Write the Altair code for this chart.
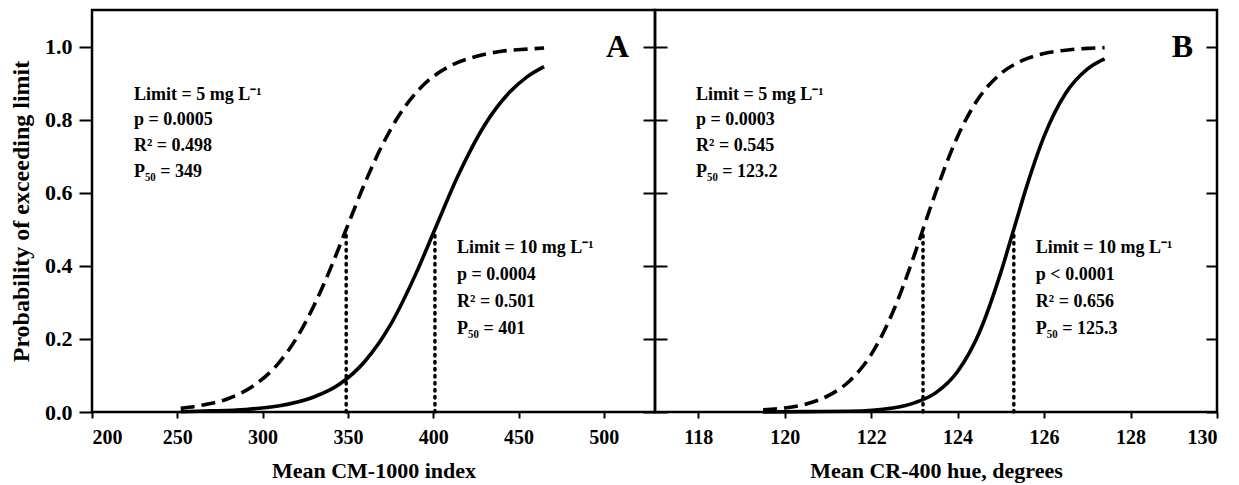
import altair as alt
import pandas as pd

FONT = "Liberation Serif"

# ---------------- data ----------------
# Panel A (Mean CM-1000 index)
a_x_dash = [252, 265, 280, 295, 310, 320, 330, 340, 349, 360, 370, 380, 395, 410, 425, 440, 455, 465]
a_y_dash = [0.010, 0.019, 0.037, 0.073, 0.137, 0.203, 0.290, 0.395, 0.500, 0.627, 0.729, 0.812,
            0.898, 0.947, 0.973, 0.987, 0.993, 0.996]
a_x_solid = [252, 270, 290, 310, 330, 345, 360, 375, 390, 401, 415, 430, 445, 455, 465]
a_y_solid = [0.001, 0.003, 0.007, 0.017, 0.041, 0.076, 0.139, 0.239, 0.380, 0.500, 0.651, 0.784,
             0.876, 0.917, 0.945]
a_p50 = [349, 401]

# Panel B (Mean CR-400 hue, degrees)
b_x_dash = [119.5, 120, 120.5, 121, 121.5, 122, 122.5, 123, 123.2, 123.5, 124, 124.5, 125, 125.5,
            126, 126.5, 127, 127.4]
b_y_dash = [0.006, 0.011, 0.022, 0.044, 0.085, 0.157, 0.273, 0.430, 0.500, 0.603, 0.754, 0.861,
            0.926, 0.962, 0.981, 0.990, 0.995, 0.997]
b_x_solid = [119.5, 120.5, 121.5, 122.5, 123, 123.5, 124, 124.5, 125, 125.3, 125.6, 126, 126.5,
             127, 127.4]
b_y_solid = [0.000, 0.001, 0.002, 0.011, 0.025, 0.053, 0.111, 0.217, 0.382, 0.500, 0.618, 0.754,
             0.872, 0.938, 0.966]
b_p50 = [123.2, 125.3]

p50_top = [0.49, 0.49]

a_text_upper = ["Limit = 5 mg L⁻¹", "p = 0.0005", "R² = 0.498", "P₅₀ = 349"]
a_text_lower = ["Limit = 10 mg L⁻¹", "p = 0.0004", "R² = 0.501", "P₅₀ = 401"]
b_text_upper = ["Limit = 5 mg L⁻¹", "p = 0.0003", "R² = 0.545", "P₅₀ = 123.2"]
b_text_lower = ["Limit = 10 mg L⁻¹", "p < 0.0001", "R² = 0.656", "P₅₀ = 125.3"]
rows_upper = [0.855, 0.784, 0.713, 0.642]
rows_lower = [0.434, 0.361, 0.287, 0.213]
a_text_x = [224.6, 414.0]
b_text_x = [117.95, 125.81]

a_letter_x, b_letter_x, letter_y = 508, 129.2, 1.0

a_domain = [200, 530]
b_domain = [117, 130]
a_ticks = [200, 250, 300, 350, 400, 450, 500]
b_ticks = [118, 120, 122, 124, 126, 128, 130]
y_ticks = [0.0, 0.2, 0.4, 0.6, 0.8, 1.0]
y_domain = [0, 1.1]


def panel(x_dash, y_dash, x_solid, y_solid, p50, t_up, t_lo, tx, letter, letter_x,
          xdomain, xticks, xtitle, is_left, width):
    xs = alt.Scale(domain=xdomain, nice=False, zero=False)
    ys = alt.Scale(domain=y_domain, nice=False, zero=False)
    x_axis = alt.Axis(values=xticks, title=xtitle, tickSize=6, labelPadding=9,
                      titlePadding=13, labelFontSize=20, titleFontSize=22, format="d")
    if is_left:
        y_axis = alt.Axis(values=y_ticks, format=".1f", title="Probability of exceeding limit",
                          orient="left", tickSize=13, labelPadding=7, titlePadding=11,
                          labelFontSize=22, titleFontSize=24)
        right_axis = alt.Axis(values=y_ticks, orient="right", offset=-12, tickSize=24,
                              labels=False, domain=False, title=None)
    else:
        y_axis = None
        right_axis = alt.Axis(values=y_ticks, orient="right", offset=-11, tickSize=11,
                              labels=False, domain=False, title=None)

    dash_df = pd.DataFrame({"x": x_dash, "y": y_dash})
    solid_df = pd.DataFrame({"x": x_solid, "y": y_solid})
    rule_df = pd.DataFrame({"x": p50, "y0": [0.0] * len(p50), "y1": p50_top})
    text_df = pd.DataFrame({
        "x": [tx[0]] * len(t_up) + [tx[1]] * len(t_lo),
        "y": rows_upper + rows_lower,
        "t": t_up + t_lo,
    })
    letter_df = pd.DataFrame({"x": [letter_x], "y": [letter_y], "t": [letter]})

    dashed = alt.Chart(dash_df).mark_line(
        color="black", strokeWidth=3.6, strokeDash=[14, 7], interpolate="monotone"
    ).encode(
        x=alt.X("x:Q", scale=xs, axis=x_axis),
        y=alt.Y("y:Q", scale=ys, axis=y_axis),
    )
    solid = alt.Chart(solid_df).mark_line(
        color="black", strokeWidth=3.6, interpolate="monotone"
    ).encode(
        x=alt.X("x:Q", scale=xs, axis=None),
        y=alt.Y("y:Q", scale=ys, axis=None),
    )
    rules = alt.Chart(rule_df).mark_rule(
        color="black", strokeWidth=3.5, strokeDash=[1.5, 5.5], strokeCap="round"
    ).encode(
        x=alt.X("x:Q", scale=xs, axis=None),
        y=alt.Y("y0:Q", scale=ys, axis=right_axis),
        y2="y1:Q",
    )
    texts = alt.Chart(text_df).mark_text(
        align="left", baseline="alphabetic", font=FONT, fontWeight="bold", fontSize=18,
        color="black"
    ).encode(
        x=alt.X("x:Q", scale=xs, axis=None),
        y=alt.Y("y:Q", scale=ys, axis=None),
        text="t:N",
    )
    letters = alt.Chart(letter_df).mark_text(
        align="center", baseline="middle", font=FONT, fontWeight="bold", fontSize=32,
        color="black"
    ).encode(
        x=alt.X("x:Q", scale=xs, axis=None),
        y=alt.Y("y:Q", scale=ys, axis=None),
        text="t:N",
    )
    return alt.layer(dashed, rules, solid, texts, letters).resolve_axis(
        x="independent", y="independent"
    ).properties(width=width, height=402)


pa = panel(a_x_dash, a_y_dash, a_x_solid, a_y_solid, a_p50, a_text_upper, a_text_lower,
           a_text_x, "A", a_letter_x, a_domain, a_ticks, "Mean CM-1000 index", True, 563)
pb = panel(b_x_dash, b_y_dash, b_x_solid, b_y_solid, b_p50, b_text_upper, b_text_lower,
           b_text_x, "B", b_letter_x, b_domain, b_ticks, "Mean CR-400 hue, degrees", False, 562)

chart = alt.hconcat(pa, pb, spacing=0, bounds="flush").properties(
    padding={"left": 0, "top": 0, "right": 2, "bottom": 2},
    background="white",
).configure_view(
    stroke="black", strokeWidth=2.5
).configure_axis(
    labelFont=FONT, titleFont=FONT, labelFontWeight="bold", titleFontWeight="bold",
    labelColor="black", titleColor="black", tickColor="black", tickWidth=2,
    grid=False, domain=False
)

chart.save("out.html", embed_options={"renderer": "svg", "actions": False})
